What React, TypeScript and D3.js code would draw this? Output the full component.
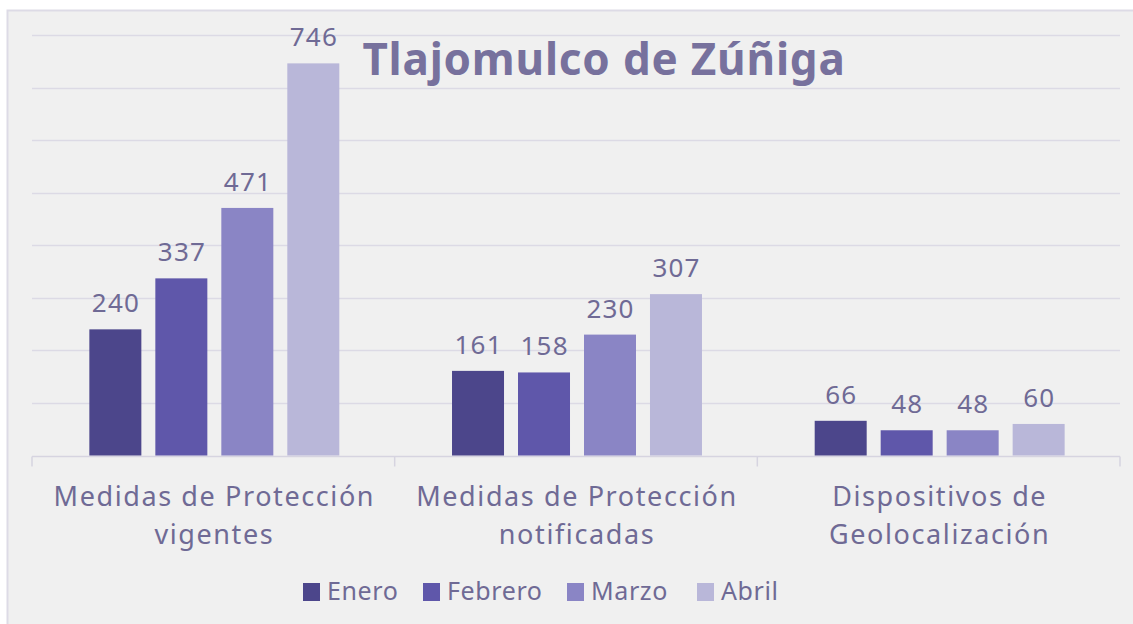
import { useRef, useEffect } from "react";
import * as d3 from "d3";

const W = 1133;
const H = 624;
const PAD = { top: 35, right: 13, bottom: 169, left: 32 };

const categories = [
  ["Medidas de Protección", "vigentes"],
  ["Medidas de Protección", "notificadas"],
  ["Dispositivos de", "Geolocalización"],
];
const months = ["Enero", "Febrero", "Marzo", "Abril"];
const enero = [240, 161, 66];
const febrero = [337, 158, 48];
const marzo = [471, 230, 48];
const abril = [746, 307, 60];
const yTicks = [0, 100, 200, 300, 400, 500, 600, 700, 800];

const COLORS = ["#4c468b", "#5f57aa", "#8a85c5", "#b9b7d9"];
const TEXT = "#6f6a95";
const FONT = "'Noto Sans', sans-serif";

export default function App() {
  const svgRef = useRef<SVGSVGElement>(null);

  useEffect(() => {
    const svg = d3.select(svgRef.current);
    if (!svg.node()) return;
    svg.selectAll("*").remove();

    const series = [enero, febrero, marzo, abril];

    svg
      .append("rect")
      .attr("x", 7.5)
      .attr("y", 10.5)
      .attr("width", W)
      .attr("height", H)
      .attr("fill", "#f0f0f0")
      .attr("stroke", "#dddbe6")
      .attr("stroke-width", 2);

    const x0 = d3
      .scaleBand()
      .domain(categories.map((_c, i) => String(i)))
      .range([PAD.left, W - PAD.right]);

    // 4 bars of ~52px with ~14px gaps, centred in each category
    const x1 = d3
      .scaleBand()
      .domain(months)
      .range([0, x0.bandwidth()])
      .paddingInner(0.212)
      .paddingOuter(0.854);

    const y = d3
      .scaleLinear()
      .domain([0, 800])
      .range([H - PAD.bottom + 0.5, PAD.top]);

    // gridlines
    svg
      .append("g")
      .selectAll("line")
      .data(yTicks.slice(1))
      .enter()
      .append("line")
      .attr("x1", PAD.left)
      .attr("x2", W - PAD.right)
      .attr("y1", (d) => Math.round(y(d)) + 0.5)
      .attr("y2", (d) => Math.round(y(d)) + 0.5)
      .attr("stroke", "#dcdae5")
      .attr("stroke-width", 1.5);

    // axis line + ticks
    const axisY = Math.round(y(0)) + 0.5;
    svg
      .append("line")
      .attr("x1", PAD.left)
      .attr("x2", W - PAD.right)
      .attr("y1", axisY)
      .attr("y2", axisY)
      .attr("stroke", "#d6d4e0")
      .attr("stroke-width", 1.5);

    const tickXs = [...categories.map((_c, i) => x0(String(i))!), W - PAD.right];
    svg
      .append("g")
      .selectAll("line")
      .data(tickXs)
      .enter()
      .append("line")
      .attr("x1", (d) => d)
      .attr("x2", (d) => d)
      .attr("y1", axisY)
      .attr("y2", axisY + 10)
      .attr("stroke", "#d6d4e0")
      .attr("stroke-width", 1.5);

    // bars
    const groups = svg
      .append("g")
      .selectAll("g")
      .data(categories.map((_c, i) => i))
      .enter()
      .append("g")
      .attr("transform", (i) => `translate(${x0(String(i))! + 1},0)`);

    groups
      .selectAll("rect")
      .data((i) => series.map((s, k) => ({ m: months[k], v: s[i], k })))
      .enter()
      .append("rect")
      .attr("x", (d) => x1(d.m)!)
      .attr("width", x1.bandwidth())
      .attr("y", (d) => y(d.v))
      .attr("height", (d) => y(0) - y(d.v))
      .attr("fill", (d) => COLORS[d.k]);

    groups
      .selectAll("text")
      .data((i) => series.map((s, k) => ({ m: months[k], v: s[i], k })))
      .enter()
      .append("text")
      .attr("x", (d) => x1(d.m)! + x1.bandwidth() / 2 + 0.6)
      .attr("y", (d) => y(d.v) - 17)
      .attr("text-anchor", "middle")
      .attr("fill", TEXT)
      .style("font-family", FONT)
      .style("font-size", "26px")
      .style("letter-spacing", "1.2px")
      .text((d) => d.v);

    // category labels
    const catLabels = svg
      .append("g")
      .selectAll("text")
      .data(categories)
      .enter()
      .append("text")
      .attr("text-anchor", "middle")
      .attr("fill", TEXT)
      .style("font-family", FONT)
      .style("font-size", "27px")
      .style("letter-spacing", "1.6px")
      .attr("transform", (_c, i) => `translate(${x0(String(i))! + x0.bandwidth() / 2 + 1},0)`);

    catLabels
      .selectAll("tspan")
      .data((c) => c)
      .enter()
      .append("tspan")
      .attr("x", 0)
      .attr("y", (_t, j) => 506 + j * 38)
      .text((t) => t);

    // title
    svg
      .append("text")
      .attr("x", 604)
      .attr("y", 75)
      .attr("text-anchor", "middle")
      .attr("fill", "#77719d")
      .style("font-family", FONT)
      .style("font-weight", "700")
      .style("font-size", "44px")
      .style("letter-spacing", "0.8px")
      .text("Tlajomulco de Zúñiga");

    // legend
    const legendX = [303, 423, 567, 697];
    const legend = svg
      .append("g")
      .selectAll("g")
      .data(months)
      .enter()
      .append("g")
      .attr("transform", (_m, i) => `translate(${legendX[i]},583)`);

    legend
      .append("rect")
      .attr("width", 17)
      .attr("height", 18)
      .attr("fill", (_m, i) => COLORS[i]);

    legend
      .append("text")
      .attr("x", 24)
      .attr("y", 17)
      .attr("fill", TEXT)
      .style("font-family", FONT)
      .style("font-size", "25px")
      .style("letter-spacing", "0.6px")
      .text((m) => m);
  }, []);

  return (
    <div style={{ position: "absolute", left: 0, top: 0, background: "#fff" }}>
      <svg ref={svgRef} width={W} height={H} style={{ display: "block" }} />
    </div>
  );
}
